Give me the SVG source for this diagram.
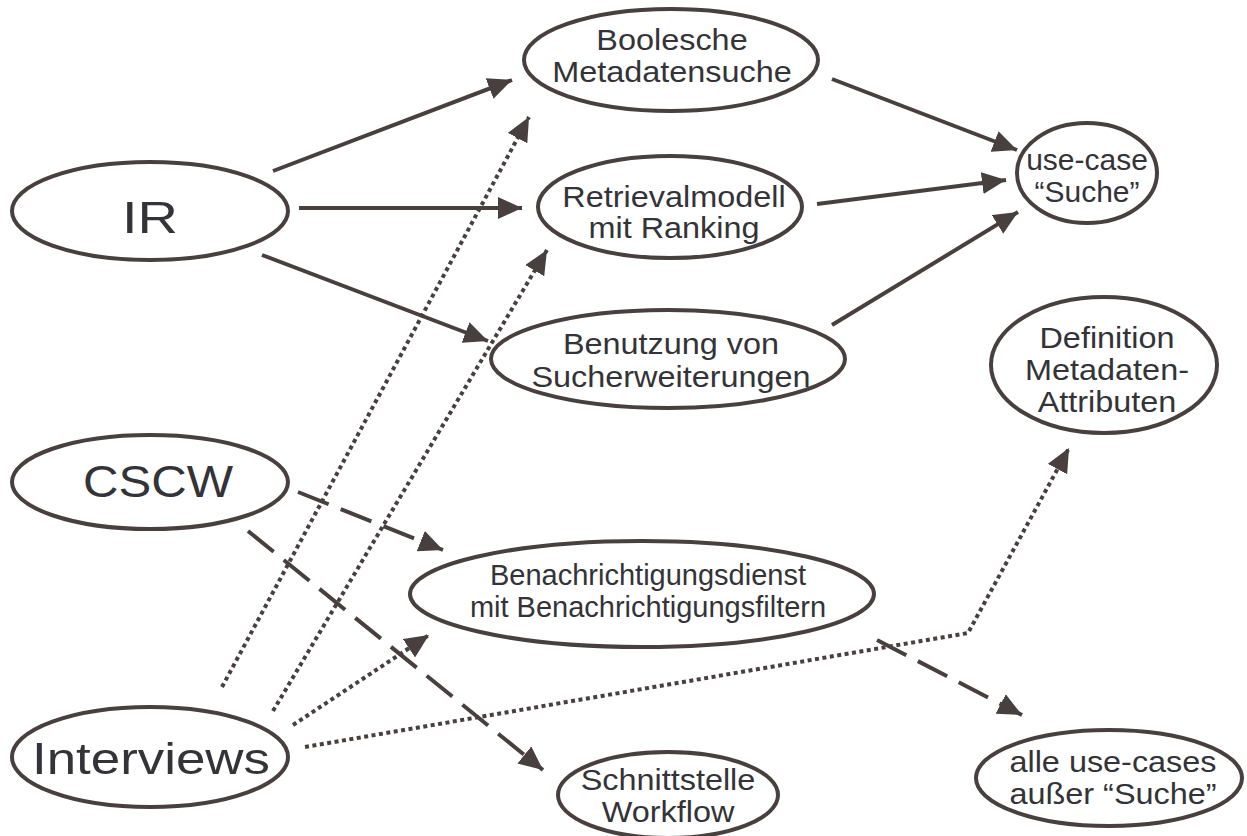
<svg xmlns="http://www.w3.org/2000/svg" width="1247" height="836" viewBox="0 0 1247 836">
<style>
.n ellipse{fill:#fff;stroke:#483f3f;stroke-width:4}
.t{font-family:"Liberation Sans",Arial,sans-serif;font-size:30px;fill:#333338;text-anchor:middle}
.b{font-size:44px}
.c path{fill:none;stroke:#483f3f;stroke-width:4}
.d{stroke-dasharray:33 13}
.o{stroke-dasharray:4 3.5}
</style>
<defs>
<marker id="a" markerUnits="userSpaceOnUse" viewBox="0 0 24 22" markerWidth="24" markerHeight="22" refX="24" refY="11" orient="auto">
<path d="M0,0 L24,11 L0,22 z" fill="#483f3f"/>
</marker>
</defs>
<rect width="1247" height="836" fill="#fff"/>
<g class="c">
<path d="M273,171 L512,80" marker-end="url(#a)"/>
<path d="M299,208 L522,208" marker-end="url(#a)"/>
<path d="M262,255 L488,341" marker-end="url(#a)"/>
<path d="M832,79 L1017,150" marker-end="url(#a)"/>
<path d="M817,204 L1006,180" marker-end="url(#a)"/>
<path d="M832,325 L1018,212" marker-end="url(#a)"/>
<path class="d" d="M298,492 L443,550" marker-end="url(#a)"/>
<path class="d" d="M248,531 L543,770" marker-end="url(#a)"/>
<path class="d" d="M877,640 L1022,715" marker-end="url(#a)"/>
<path class="o" d="M222,687 L529,117" marker-end="url(#a)"/>
<path class="o" d="M273,711 L547,250" marker-end="url(#a)"/>
<path class="o" d="M293,725 L429,635" marker-end="url(#a)"/>
<path class="o" d="M305,747 L968,633 L1069,448" marker-end="url(#a)"/>
</g>
<g id="ir" class="n"><ellipse cx="150" cy="211" rx="138" ry="49"/><text class="t b" x="150" y="233" textLength="56" lengthAdjust="spacingAndGlyphs">IR</text></g>
<g id="cscw" class="n"><ellipse cx="150" cy="482" rx="138" ry="47"/><text class="t b" x="158" y="497" textLength="150" lengthAdjust="spacingAndGlyphs">CSCW</text></g>
<g id="interviews" class="n"><ellipse cx="150" cy="757" rx="138" ry="50"/><text class="t b" x="151" y="774" textLength="238" lengthAdjust="spacingAndGlyphs">Interviews</text></g>
<g id="boolesche" class="n"><ellipse cx="671" cy="60" rx="147" ry="51"/><g transform="translate(672 0) scale(1.08 1)"><text class="t" x="0" y="50">Boolesche</text><text class="t" x="0" y="82">Metadatensuche</text></g></g>
<g id="retrieval" class="n"><ellipse cx="670" cy="207" rx="132" ry="51"/><g transform="translate(674 0) scale(1.08 1)"><text class="t" x="0" y="207">Retrievalmodell</text><text class="t" x="0" y="238">mit Ranking</text></g></g>
<g id="benutzung" class="n"><ellipse cx="668" cy="359" rx="177" ry="49"/><g transform="translate(671 0) scale(1.08 1)"><text class="t" x="0" y="354">Benutzung von</text><text class="t" x="0" y="387">Sucherweiterungen</text></g></g>
<g id="usecase" class="n"><ellipse cx="1087" cy="173" rx="70" ry="50"/><text class="t" x="1087" y="170">use-case</text><text class="t" x="1087" y="202">“Suche”</text></g>
<g id="definition" class="n"><ellipse cx="1104" cy="365" rx="113" ry="68"/><g transform="translate(1107 0) scale(1.08 1)"><text class="t" x="0" y="348">Definition</text><text class="t" x="0" y="380">Metadaten-</text><text class="t" x="0" y="412">Attributen</text></g></g>
<g id="benachrichtigung" class="n"><ellipse cx="642" cy="594" rx="232" ry="53"/><g transform="translate(648 0)"><text class="t" x="0" y="585" style="font-size:29px">Benachrichtigungsdienst</text><text class="t" x="0" y="617" style="font-size:29px">mit Benachrichtigungsfiltern</text></g></g>
<g id="schnittstelle" class="n"><ellipse cx="668" cy="795" rx="110" ry="43"/><g transform="translate(668 0) scale(1.08 1)"><text class="t" x="0" y="790">Schnittstelle</text><text class="t" x="0" y="822">Workflow</text></g></g>
<g id="alle" class="n"><ellipse cx="1109" cy="778" rx="133" ry="48"/><g transform="translate(1113 0) scale(1.08 1)"><text class="t" x="0" y="772">alle use-cases</text><text class="t" x="0" y="804">außer “Suche”</text></g></g>
</svg>
